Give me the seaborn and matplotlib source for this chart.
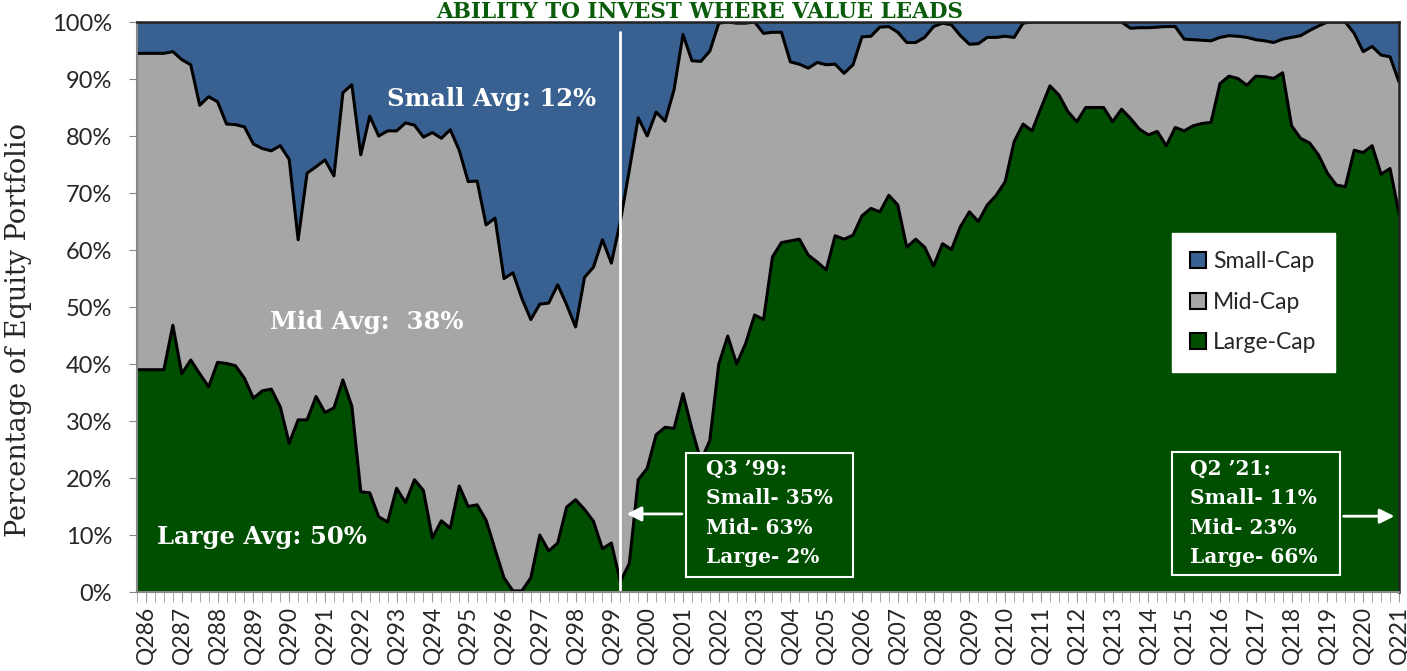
import numpy as np
import pandas as pd
import matplotlib
matplotlib.use("Agg")
import matplotlib.pyplot as plt
from matplotlib.patches import Patch, Rectangle
import seaborn as sns

# Quarterly allocation, Q1 1986 .. Q2 2021 (percent of equity portfolio)
large_cap = [39.0, 39.0, 39.0, 39.0, 46.8, 38.3, 40.7, 38.3, 36.0, 40.3,
             40.1, 39.7, 37.5, 34.0, 35.3, 35.6, 32.5, 26.1, 30.2, 30.2,
             34.3, 31.5, 32.3, 37.2, 32.6, 17.6, 17.4, 13.2, 12.3, 18.2,
             15.7, 19.7, 17.8, 9.5, 12.5, 11.2, 18.6, 15.0, 15.3, 12.6,
             7.5, 2.5, 0.2, 0.2, 2.5, 10.0, 7.2, 8.6, 14.9, 16.2,
             14.5, 12.4, 7.6, 8.6, 1.8, 5.0, 19.7, 21.7, 27.6, 28.9,
             28.7, 34.8, 28.6, 23.0, 26.6, 40.0, 44.9, 40.0, 43.6, 48.6,
             47.8, 58.8, 61.3, 61.6, 61.9, 59.1, 57.9, 56.5, 62.5, 61.9,
             62.6, 66.0, 67.3, 66.7, 69.6, 67.9, 60.5, 61.9, 60.5, 57.2,
             61.1, 60.1, 64.1, 66.7, 65.0, 67.9, 69.6, 72.0, 79.0, 82.1,
             80.9, 84.9, 88.8, 87.2, 84.3, 82.5, 85.0, 85.0, 85.0, 82.5,
             84.7, 83.1, 81.2, 80.2, 80.8, 78.3, 81.5, 80.9, 81.8, 82.2,
             82.4, 89.2, 90.5, 90.1, 88.9, 90.5, 90.4, 90.1, 91.1, 81.8,
             79.6, 78.8, 76.7, 73.5, 71.4, 71.1, 77.5, 77.1, 78.3, 73.3,
             74.3, 66.4]
mid_cap = [55.5, 55.5, 55.5, 55.5, 48.0, 55.1, 51.8, 47.1, 50.9, 45.7,
           42.0, 42.3, 44.1, 44.6, 42.5, 41.8, 45.8, 49.8, 31.6, 43.3,
           40.3, 44.3, 40.7, 50.4, 56.4, 59.1, 66.1, 66.8, 68.6, 62.7,
           66.6, 62.2, 62.0, 71.1, 67.1, 69.9, 58.9, 57.0, 56.8, 51.8,
           58.1, 52.5, 55.8, 51.3, 45.3, 40.5, 43.5, 45.3, 35.5, 30.3,
           40.7, 44.6, 54.2, 49.1, 63.2, 69.0, 63.5, 58.3, 56.6, 53.7,
           59.4, 63.0, 64.6, 70.1, 68.3, 59.8, 55.1, 59.8, 56.2, 51.4,
           50.2, 39.4, 36.9, 31.4, 30.7, 32.8, 35.0, 36.0, 30.1, 29.1,
           29.9, 31.4, 30.2, 32.4, 29.6, 30.3, 35.9, 34.5, 36.8, 42.0,
           38.7, 39.4, 33.5, 29.4, 31.2, 29.4, 27.7, 25.5, 18.3, 17.7,
           19.1, 15.1, 11.2, 12.8, 15.7, 17.5, 15.0, 15.0, 15.0, 17.5,
           15.3, 15.8, 17.8, 18.8, 18.3, 20.9, 17.7, 16.1, 15.1, 14.6,
           14.3, 8.1, 7.1, 7.4, 8.4, 6.4, 6.3, 6.3, 5.9, 15.5,
           18.0, 19.7, 22.6, 26.5, 28.6, 28.9, 20.5, 17.7, 17.4, 20.9,
           19.6, 23.1]
small_cap = [5.5, 5.5, 5.5, 5.5, 5.2, 6.6, 7.5, 14.6, 13.1, 14.0,
             17.9, 18.0, 18.4, 21.4, 22.2, 22.6, 21.7, 24.1, 38.2, 26.5,
             25.4, 24.2, 27.0, 12.4, 11.0, 23.3, 16.5, 20.0, 19.1, 19.1,
             17.7, 18.1, 20.2, 19.4, 20.4, 18.9, 22.5, 28.0, 27.9, 35.6,
             34.4, 45.0, 44.0, 48.5, 52.2, 49.5, 49.3, 46.1, 49.6, 53.5,
             44.8, 43.0, 38.2, 42.3, 35.0, 26.0, 16.8, 20.0, 15.8, 17.4,
             11.9, 2.2, 6.8, 6.9, 5.1, 0.2, 0.0, 0.2, 0.2, 0.0,
             2.0, 1.8, 1.8, 7.0, 7.4, 8.1, 7.1, 7.5, 7.4, 9.0,
             7.5, 2.6, 2.5, 0.9, 0.8, 1.8, 3.6, 3.6, 2.7, 0.8,
             0.2, 0.5, 2.4, 3.9, 3.8, 2.7, 2.7, 2.5, 2.7, 0.2,
             0.0, 0.0, 0.0, 0.0, 0.0, 0.0, 0.0, 0.0, 0.0, 0.0,
             0.0, 1.1, 1.0, 1.0, 0.9, 0.8, 0.8, 3.0, 3.1, 3.2,
             3.3, 2.7, 2.4, 2.5, 2.7, 3.1, 3.3, 3.6, 3.0, 2.7,
             2.4, 1.5, 0.7, 0.0, 0.0, 0.0, 2.0, 5.2, 4.3, 5.8,
             6.1, 10.5]

years = list(range(1986, 2022))
tick_labels = ["Q2%02d" % (y % 100) for y in years]

series_names = ["Small-Cap", "Mid-Cap", "Large-Cap"]
colors = {"Small-Cap": "#386090", "Mid-Cap": "#a6a6a6", "Large-Cap": "#004f00"}

df = pd.DataFrame({"Large-Cap": large_cap, "Mid-Cap": mid_cap, "Small-Cap": small_cap})
df["q"] = np.arange(len(df))
df["large_top"] = df["Large-Cap"]
df["mid_top"] = df["Large-Cap"] + df["Mid-Cap"]

sns.set_style("white")
plt.rcParams["font.family"] = ["Lato", "DejaVu Sans"]

fig = plt.figure(figsize=(14.07, 6.71), dpi=100)
ax = fig.add_axes([0.0974, 0.1177, 0.8969, 0.8495])

ax.stackplot(df["q"], df["Large-Cap"], df["Mid-Cap"], df["Small-Cap"],
             colors=[colors["Large-Cap"], colors["Mid-Cap"], colors["Small-Cap"]],
             linewidth=0)
sns.lineplot(data=df, x="q", y="large_top", color="black", lw=2.2, ax=ax)
sns.lineplot(data=df, x="q", y="mid_top", color="black", lw=2.2, ax=ax)

n = len(df)
ax.set_xlim(0, n - 1)
ax.set_ylim(0, 100)
ax.set_xlabel("")
ax.set_ylabel("Percentage of Equity Portfolio", family="DejaVu Serif",
              fontsize=19.5)
ax.yaxis.set_label_coords(-0.083, 0.46)

ax.set_yticks(np.arange(0, 101, 10))
ax.set_yticklabels(["%d%%" % v for v in range(0, 101, 10)], fontsize=17)
ax.set_xticks(np.arange(1, n, 4))
ax.set_xticklabels(tick_labels, rotation=90, fontsize=16.5)
ax.set_xticks(np.arange(0, n), minor=True)
ax.tick_params(axis="y", which="major", direction="out", length=6,
               color="#888888", left=True, pad=12)
ax.tick_params(axis="x", which="both", direction="out", length=7,
               color="#999999", bottom=True, pad=3)

for side in ["left", "bottom"]:
    ax.spines[side].set_color("#888888")
    ax.spines[side].set_linewidth(1.5)
for side in ["top", "right"]:
    ax.spines[side].set_color("#222222")
    ax.spines[side].set_linewidth(1.8)

# marker of the Q3 '99 low point
ax.plot([54, 54], [0, 98.2], color="white", lw=2)

serif = "DejaVu Serif"
ax.text(39.6, 86.5, "Small Avg: 12%", color="white", family=serif,
        weight="bold", fontsize=17.5, ha="center", va="center")
ax.text(25.7, 47.4, "Mid Avg:  38%", color="white", family=serif,
        weight="bold", fontsize=17.5, ha="center", va="center")
ax.text(14.0, 9.6, "Large Avg: 50%", color="white", family=serif,
        weight="bold", fontsize=17.5, ha="center", va="center")

# call-out boxes
ax.add_patch(Rectangle((61.3, 2.6), 18.7, 21.8, facecolor=colors["Large-Cap"],
                       edgecolor="white", lw=1.5, zorder=4))
ax.text(63.6, 23.3, "Q3 \u201999:\nSmall- 35%\nMid- 63%\nLarge- 2%", color="white",
        family=serif, weight="bold", fontsize=14.5, ha="left", va="top",
        linespacing=1.58, zorder=5)
ax.annotate("", xy=(54.4, 13.7), xytext=(61.2, 13.7),
            arrowprops=dict(arrowstyle="-|>", color="white", lw=2,
                            mutation_scale=22), zorder=5)

ax.add_patch(Rectangle((115.6, 3.0), 18.8, 21.6, facecolor=colors["Large-Cap"],
                       edgecolor="white", lw=1.5, zorder=4))
ax.text(117.7, 23.3, "Q2 \u201921:\nSmall- 11%\nMid- 23%\nLarge- 66%", color="white",
        family=serif, weight="bold", fontsize=14.5, ha="left", va="top",
        linespacing=1.58, zorder=5)
ax.annotate("", xy=(140.8, 13.3), xytext=(134.5, 13.3),
            arrowprops=dict(arrowstyle="-|>", color="white", lw=2,
                            mutation_scale=22), zorder=5)

handles = [Patch(facecolor=colors[s], edgecolor="black", lw=1.5, label=s)
           for s in series_names]
leg = ax.legend(handles=handles, loc="upper left", bbox_to_anchor=(0.82, 0.63),
                frameon=True, fancybox=False, fontsize=16.5, handlelength=0.7,
                handleheight=0.7, handletextpad=0.3, labelspacing=0.85,
                borderpad=0.8, borderaxespad=0)
leg.get_frame().set_facecolor("white")
leg.get_frame().set_edgecolor("white")
leg.get_frame().set_alpha(1)

fig.text(0.4975, 0.999, "ABILITY TO INVEST WHERE VALUE LEADS", color="#0a5c0a",
         family=serif, weight="bold", fontsize=15.5, ha="center", va="top")

fig.savefig("out.png", dpi=100)
